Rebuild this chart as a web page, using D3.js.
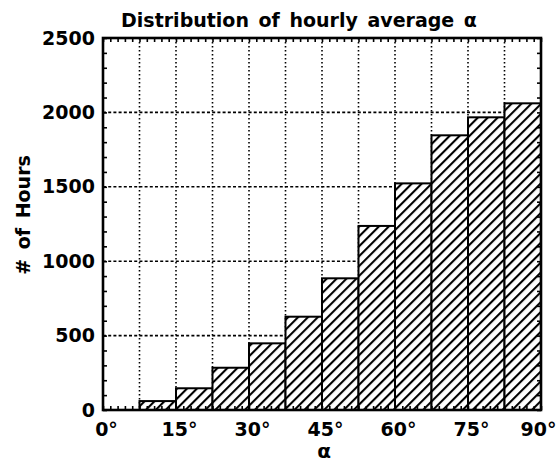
<!DOCTYPE html>
<html>
<head>
<meta charset="utf-8">
<script src="https://cdn.jsdelivr.net/npm/d3@7"></script>
<style>
  html, body { margin: 0; padding: 0; background: #fff; }
  svg text { font-family: "DejaVu Sans", Verdana, sans-serif; font-weight: bold; fill: #000; }
</style>
</head>
<body>
<svg id="chart" width="557" height="462"></svg>
<script>
// Histogram of hourly-average alpha, in 7.5 degree bins
const binStarts = [0, 7.5, 15, 22.5, 30, 37.5, 45, 52.5, 60, 67.5, 75, 82.5];
const binWidth = 7.5;
const hourCounts = [0, 60, 146, 284, 448, 627, 885, 1237, 1523, 1846, 1967, 2061];
const xTickValues = [0, 15, 30, 45, 60, 75, 90];
const yTickValues = [0, 500, 1000, 1500, 2000, 2500];
const titleText = "Distribution of hourly average \u03b1";
const xLabelText = "\u03b1";
const yLabelText = "# of Hours";

const svg = d3.select("#chart");
const plotL = 103, plotR = 541, plotT = 38, plotB = 410;

const x = d3.scaleLinear().domain([0, 90]).range([plotL, plotR]);
const y = d3.scaleLinear().domain([0, 2500]).range([plotB, plotT]);

// diagonal hatch
const defs = svg.append("defs");
const pat = defs.append("pattern")
  .attr("id", "hatch")
  .attr("patternUnits", "userSpaceOnUse")
  .attr("width", 7).attr("height", 7)
  .attr("patternTransform", "rotate(45)");
pat.append("rect").attr("width", 7).attr("height", 7).attr("fill", "#fff");
pat.append("line")
  .attr("x1", 0).attr("y1", 0).attr("x2", 0).attr("y2", 7)
  .attr("stroke", "#000").attr("stroke-width", 4.2);

// grid
const grid = svg.append("g");
grid.selectAll("line.v")
  .data(d3.range(7.5, 90, 7.5))
  .join("line")
  .attr("class", "v")
  .attr("x1", d => x(d)).attr("x2", d => x(d))
  .attr("y1", plotT).attr("y2", plotB)
  .attr("stroke", "#000").attr("stroke-width", 1.6)
  .attr("stroke-dasharray", "1.6,2.4");
grid.selectAll("line.h")
  .data(yTickValues.filter(v => v > 0 && v < 2500))
  .join("line")
  .attr("class", "h")
  .attr("x1", plotL).attr("x2", plotR)
  .attr("y1", d => y(d)).attr("y2", d => y(d))
  .attr("stroke", "#000").attr("stroke-width", 1.6)
  .attr("stroke-dasharray", "3,2.2");

// bars
svg.append("g")
  .selectAll("rect")
  .data(binStarts.map((s, i) => ({ s, v: hourCounts[i] })).filter(d => d.v > 0))
  .join("rect")
  .attr("x", d => x(d.s))
  .attr("width", d => x(d.s + binWidth) - x(d.s))
  .attr("y", d => y(d.v))
  .attr("height", d => y(0) - y(d.v))
  .attr("fill", "url(#hatch)")
  .attr("stroke", "#000").attr("stroke-width", 2);

// minor ticks on all four sides, pointing inward
const minorX = d3.range(0, 90.01, 1.5);
const minorY = d3.range(0, 2500.1, 100);
function styleTicks(g) {
  g.select(".domain").remove();
  g.selectAll(".tick line").attr("stroke", "#000").attr("stroke-width", 1.6);
  g.selectAll(".tick text").remove();
}
svg.append("g").attr("transform", `translate(0,${plotB})`)
  .call(d3.axisBottom(x).tickValues(minorX).tickSize(-4)).call(styleTicks);
svg.append("g").attr("transform", `translate(0,${plotT})`)
  .call(d3.axisTop(x).tickValues(minorX).tickSize(-4)).call(styleTicks);
svg.append("g").attr("transform", `translate(${plotL},0)`)
  .call(d3.axisLeft(y).tickValues(minorY).tickSize(-4)).call(styleTicks);
svg.append("g").attr("transform", `translate(${plotR},0)`)
  .call(d3.axisRight(y).tickValues(minorY).tickSize(-4)).call(styleTicks);

// frame
svg.append("rect")
  .attr("x", plotL).attr("y", plotT)
  .attr("width", plotR - plotL).attr("height", plotB - plotT)
  .attr("fill", "none").attr("stroke", "#000").attr("stroke-width", 2.6);

// tick labels
const xAxis = svg.append("g").attr("transform", `translate(0,${plotB})`)
  .call(d3.axisBottom(x).tickValues(xTickValues).tickSize(0).tickPadding(13)
    .tickFormat(d => d + "\u00b0"));
xAxis.select(".domain").remove();
xAxis.selectAll(".tick text").attr("font-size", 19).attr("font-family", null)
  .attr("dx", d => (d === 90 ? -3 : 3));

const yAxis = svg.append("g").attr("transform", `translate(${plotL},0)`)
  .call(d3.axisLeft(y).tickValues(yTickValues).tickSize(0).tickPadding(8)
    .tickFormat(d3.format("d")));
yAxis.select(".domain").remove();
yAxis.selectAll(".tick text").attr("font-size", 19).attr("font-family", null);

// titles
svg.append("text")
  .attr("x", 299).attr("y", 27)
  .attr("text-anchor", "middle")
  .attr("font-size", 19)
  .attr("word-spacing", 3)
  .text(titleText);
svg.append("text")
  .attr("x", 324).attr("y", 458)
  .attr("text-anchor", "middle")
  .attr("font-size", 20)
  .text(xLabelText);
svg.append("text")
  .attr("transform", "translate(30,215) rotate(-90)")
  .attr("text-anchor", "middle")
  .attr("font-size", 19)
  .attr("word-spacing", 3)
  .text(yLabelText);
</script>
</body>
</html>
